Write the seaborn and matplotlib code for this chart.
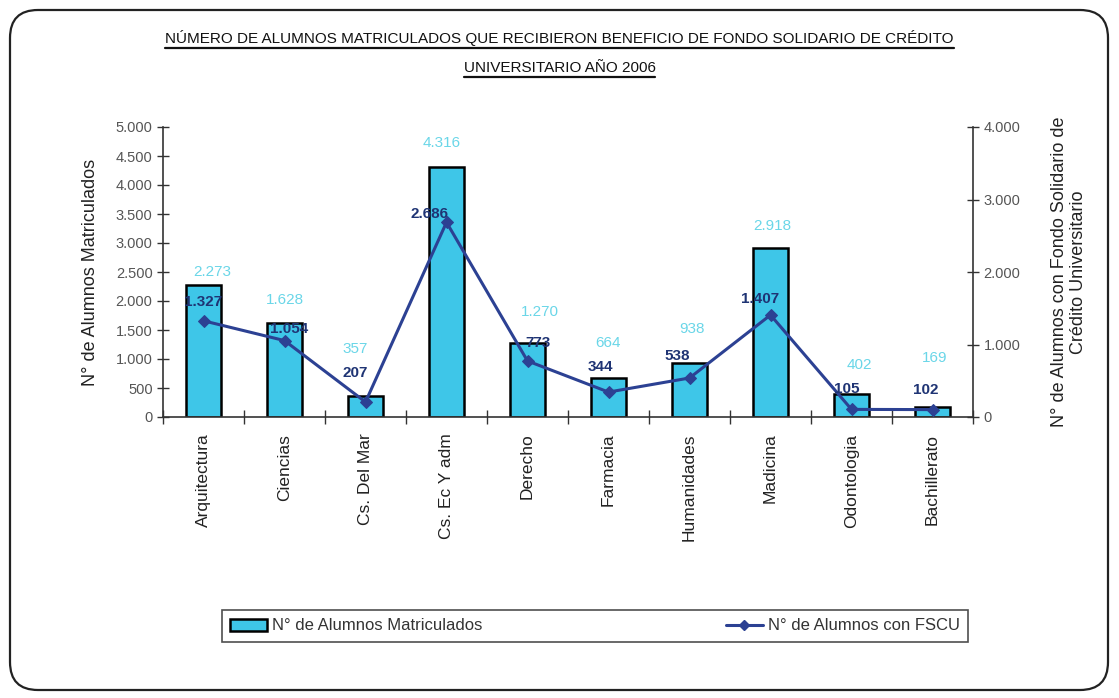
import numpy as np
import pandas as pd
import matplotlib
matplotlib.use("Agg")
import matplotlib.pyplot as plt
import seaborn as sns
from matplotlib.ticker import FuncFormatter, FixedLocator
from matplotlib.lines import Line2D
from matplotlib.patches import FancyBboxPatch, Patch

# ---------------- data ----------------
categories = ["Arquitectura", "Ciencias", "Cs. Del Mar", "Cs. Ec Y adm", "Derecho",
              "Farmacia", "Humanidades", "Madicina", "Odontologia", "Bachillerato"]
matriculados = [2273, 1628, 357, 4316, 1270, 664, 938, 2918, 402, 169]
fscu = [1327, 1054, 207, 2686, 773, 344, 538, 1407, 105, 102]

title_lines = ["NÚMERO DE ALUMNOS MATRICULADOS QUE RECIBIERON BENEFICIO DE FONDO SOLIDARIO DE CRÉDITO",
               "UNIVERSITARIO AÑO 2006"]
left_label = "N° de Alumnos Matriculados"
right_label = "N° de Alumnos con Fondo Solidario de\nCrédito Universitario"
legend_labels = ["N° de Alumnos Matriculados", "N° de Alumnos con FSCU"]

# label placement (pixels): (dx, dy) relative to bar top / point
bar_lbl_off = [(9, 13), (0, 23), (-10, 47), (-5, 24), (12, 31), (0, 35), (2, 34), (2, 22), (8, 29), (2, 49)]
line_lbl_off = [(0, 19), (5, 12), (-10, 29), (-17, 8), (11, 18), (-8, 25), (-12, 22), (-10, 16), (-5, 20), (-7, 20)]

# ---------------- style ----------------
sns.set_style("white")
plt.rcParams["font.family"] = ["Liberation Sans", "DejaVu Sans"]

BAR = "#3EC6E8"
BAR_TXT = "#6AD6E8"
LINE = "#2C4193"
LINE_TXT = "#1F3474"

W, H = 1119, 698
fig = plt.figure(figsize=(W / 100, H / 100), dpi=100)
fig.patch.set_facecolor("white")

ax = fig.add_axes([163 / W, 1 - 417 / H, 810 / W, 290 / H])
df = pd.DataFrame({"cat": categories, "mat": matriculados})
sns.barplot(data=df, x="cat", y="mat", ax=ax, color=BAR, width=0.43,
            edgecolor="black", linewidth=1.8, saturation=1)
ax.set_xlim(-0.5, len(categories) - 0.5)
ax.set_ylim(0, 5000)
ax.yaxis.set_major_locator(FixedLocator(np.arange(0, 5001, 500)))
fmt = FuncFormatter(lambda v, p: f"{int(v):,}".replace(",", "."))
ax.yaxis.set_major_formatter(fmt)
ax.set_xlabel("")
ax.set_ylabel(left_label, fontsize=13, color="#222222", labelpad=12)
ax.tick_params(axis="y", direction="inout", length=8, width=1, colors="#333333",
               labelsize=10.5, labelcolor="#555555", left=True)
ax.tick_params(axis="x", which="major", length=0, labelsize=12.5, labelcolor="#222222", pad=12)
ax.set_xticks(range(len(categories)))
ax.set_xticklabels(categories, rotation=90, va="top")
ax.set_xticks(np.arange(-0.5, len(categories)), minor=True)
ax.tick_params(axis="x", which="minor", direction="inout", length=10, width=1, color="#333333", bottom=True)
for s in ["top", "right"]:
    ax.spines[s].set_visible(False)
for s in ["left", "bottom"]:
    ax.spines[s].set_color("#333333")
    ax.spines[s].set_linewidth(1.2)

ax2 = ax.twinx()
sns.lineplot(x=np.arange(len(categories)), y=fscu, ax=ax2, color=LINE, linewidth=2.2,
             marker="D", markersize=6, markeredgecolor=LINE)
ax2.set_xlim(-0.5, len(categories) - 0.5)
ax2.set_ylim(0, 4000)
ax2.yaxis.set_major_locator(FixedLocator(np.arange(0, 4001, 1000)))
ax2.yaxis.set_major_formatter(fmt)
ax2.set_ylabel(right_label, fontsize=13, color="#222222", labelpad=22)
ax2.tick_params(axis="y", direction="inout", length=8, width=1, colors="#333333",
                labelsize=10.5, labelcolor="#555555", right=True)
ax2.spines["top"].set_visible(False)
ax2.spines["left"].set_visible(False)
ax2.spines["bottom"].set_visible(False)
ax2.spines["right"].set_color("#333333")
ax2.spines["right"].set_linewidth(1.2)

# data labels
for i, v in enumerate(matriculados):
    dx, dy = bar_lbl_off[i]
    ax.annotate(f"{v:,}".replace(",", "."), (i, v), xytext=(dx, dy), textcoords="offset pixels",
                ha="center", va="center", fontsize=11, color=BAR_TXT)
for i, v in enumerate(fscu):
    dx, dy = line_lbl_off[i]
    ax2.annotate(f"{v:,}".replace(",", "."), (i, v), xytext=(dx, dy), textcoords="offset pixels",
                 ha="center", va="center", fontsize=11, color=LINE_TXT, fontweight="bold")

# title with underline
t1 = fig.text(0.5, 1 - 38 / H, title_lines[0], ha="center", va="center", fontsize=11, color="#111111")
t2 = fig.text(0.5, 1 - 68 / H, title_lines[1], ha="center", va="center", fontsize=11, color="#111111")

# legend
handles = [Patch(facecolor=BAR, edgecolor="black", linewidth=1.8),
           Line2D([0], [0], color=LINE, linewidth=2.2, marker="D", markersize=5)]
leg = fig.legend(handles, legend_labels, loc="center", ncol=2, mode="expand",
                 bbox_to_anchor=(222 / W, 1 - 645 / H, 746 / W, 38 / H),
                 frameon=True, fancybox=False, edgecolor="#222222", fontsize=12,
                 handlelength=2.2, handletextpad=0.3, borderpad=0.5, borderaxespad=0)
leg.get_frame().set_linewidth(1.2)
for txt in leg.get_texts():
    txt.set_color("#333333")

# outer rounded frame
frame = FancyBboxPatch((10 / W, 8 / H), 1098 / W, 680 / H,
                       boxstyle="round,pad=0,rounding_size=0.025",
                       transform=fig.transFigure, facecolor="none", edgecolor="#222222",
                       linewidth=1.6, mutation_aspect=W / H)
fig.add_artist(frame)

fig.canvas.draw()
r = fig.canvas.get_renderer()
for t in (t1, t2):
    bb = t.get_window_extent(r)
    y = (bb.y0 - 2) / H
    fig.add_artist(Line2D([bb.x0 / W, bb.x1 / W], [y, y], transform=fig.transFigure,
                          color="#111111", linewidth=1.6))

fig.savefig("out.png", dpi=100)
